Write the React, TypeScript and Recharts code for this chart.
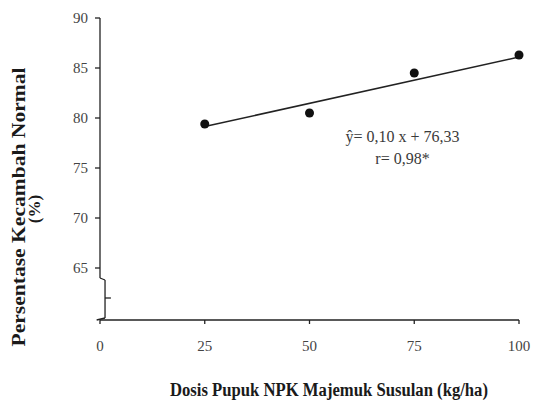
import React from 'react';
import {
  ComposedChart,
  Scatter,
  Line,
  XAxis,
  YAxis,
  ReferenceLine,
  ReferenceDot,
} from 'recharts';

// dosis pupuk (kg/ha) dan persentase kecambah normal (%)
const dosis = [25, 50, 75, 100];
const kecambah = [79.4, 80.5, 84.5, 86.3];

// garis regresi
const trendX = [25, 100];
const trendY = [79.15, 86.1];

const xTicks = [0, 25, 50, 75, 100];
const yTicks = [65, 70, 75, 80, 85, 90];

const xTitle = 'Dosis Pupuk NPK Majemuk Susulan (kg/ha)';
const yTitle = 'Persentase Kecambah Normal';
const yUnit = '(%)';
const persamaan = 'ŷ= 0,10 x + 76,33';
const korelasi = 'r= 0,98*';

const points = dosis.map((x, i) => ({ x, y: kecambah[i] }));
const trend = trendX.map((x, i) => ({ x, y: trendY[i] }));

const SERIF = '"Liberation Serif", "Times New Roman", serif';
const INK = '#1a1a1a';

const XTitle = () => (
  <text
    x={329}
    y={396}
    textAnchor="middle"
    fontFamily={SERIF}
    fontWeight="bold"
    fontSize={18}
    fill={INK}
    textLength={318}
    lengthAdjust="spacingAndGlyphs"
  >
    {xTitle}
  </text>
);

const YTitle = () => (
  <g fontFamily={SERIF} fontWeight="bold" fill={INK}>
    <text
      x={25}
      y={207}
      transform="rotate(-90, 25, 207)"
      textAnchor="middle"
      fontSize={18}
      textLength={279}
      lengthAdjust="spacingAndGlyphs"
    >
      {yTitle}
    </text>
    <text x={40} y={209} transform="rotate(-90, 40, 209)" textAnchor="middle" fontSize={17}>
      {yUnit}
    </text>
  </g>
);

const Annotation = (props: any) => {
  const vb = props.viewBox || {};
  const cx = (vb.x || 0) + (vb.width || 0) / 2;
  const cy = (vb.y || 0) + (vb.height || 0) / 2;
  return (
    <g fontFamily={SERIF} fontSize={16} fill="#3a3a3a">
      <text x={cx} y={cy} textAnchor="middle" textLength={114} lengthAdjust="spacingAndGlyphs">
        {persamaan}
      </text>
      <text x={cx} y={cy + 22} textAnchor="middle">
        {korelasi}
      </text>
    </g>
  );
};

const axisStroke = { stroke: '#222', strokeWidth: 1.3 };

export default function App() {
  return (
    <div style={{ position: 'absolute', left: 0, top: 0, background: '#fff' }}>
      <ComposedChart width={533} height={408} margin={{ top: 18, right: 14, bottom: 48, left: 40 }}>
        <XAxis
          type="number"
          dataKey="x"
          domain={[0, 100]}
          ticks={xTicks}
          height={40}
          tickSize={4}
          tickMargin={16}
          axisLine={axisStroke}
          tickLine={axisStroke}
          tick={{ fontFamily: SERIF, fontSize: 15, fill: '#444' }}
          label={XTitle}
        />
        <YAxis
          type="number"
          dataKey="y"
          domain={[59.8, 90]}
          ticks={yTicks}
          width={60}
          tickSize={5}
          tickMargin={7}
          axisLine={false}
          tickLine={axisStroke}
          tick={{ fontFamily: SERIF, fontSize: 15, fill: '#444' }}
          label={YTitle}
        />

        {/* sumbu Y dengan tanda patah */}
        <ReferenceLine segment={[{ x: 0, y: 90 }, { x: 0, y: 64 }]} ifOverflow="visible" {...axisStroke} />
        <ReferenceLine segment={[{ x: 0, y: 64 }, { x: 1.2, y: 63.8 }]} ifOverflow="visible" {...axisStroke} />
        <ReferenceLine segment={[{ x: 1.2, y: 63.8 }, { x: 1.2, y: 60 }]} ifOverflow="visible" {...axisStroke} />
        <ReferenceLine segment={[{ x: 1.2, y: 62 }, { x: 2.6, y: 62 }]} ifOverflow="visible" {...axisStroke} />
        <ReferenceLine segment={[{ x: 1.2, y: 60 }, { x: -0.8, y: 59.8 }]} ifOverflow="visible" {...axisStroke} />

        <Line
          data={trend}
          dataKey="y"
          type="linear"
          stroke="#222"
          strokeWidth={1.5}
          dot={false}
          isAnimationActive={false}
        />
        <Scatter data={points} dataKey="y" fill="#111" isAnimationActive={false} />

        <ReferenceDot
          x={72.2}
          y={77.6}
          r={0}
          fill="none"
          stroke="none"
          ifOverflow="visible"
          label={Annotation}
        />
      </ComposedChart>
    </div>
  );
}
